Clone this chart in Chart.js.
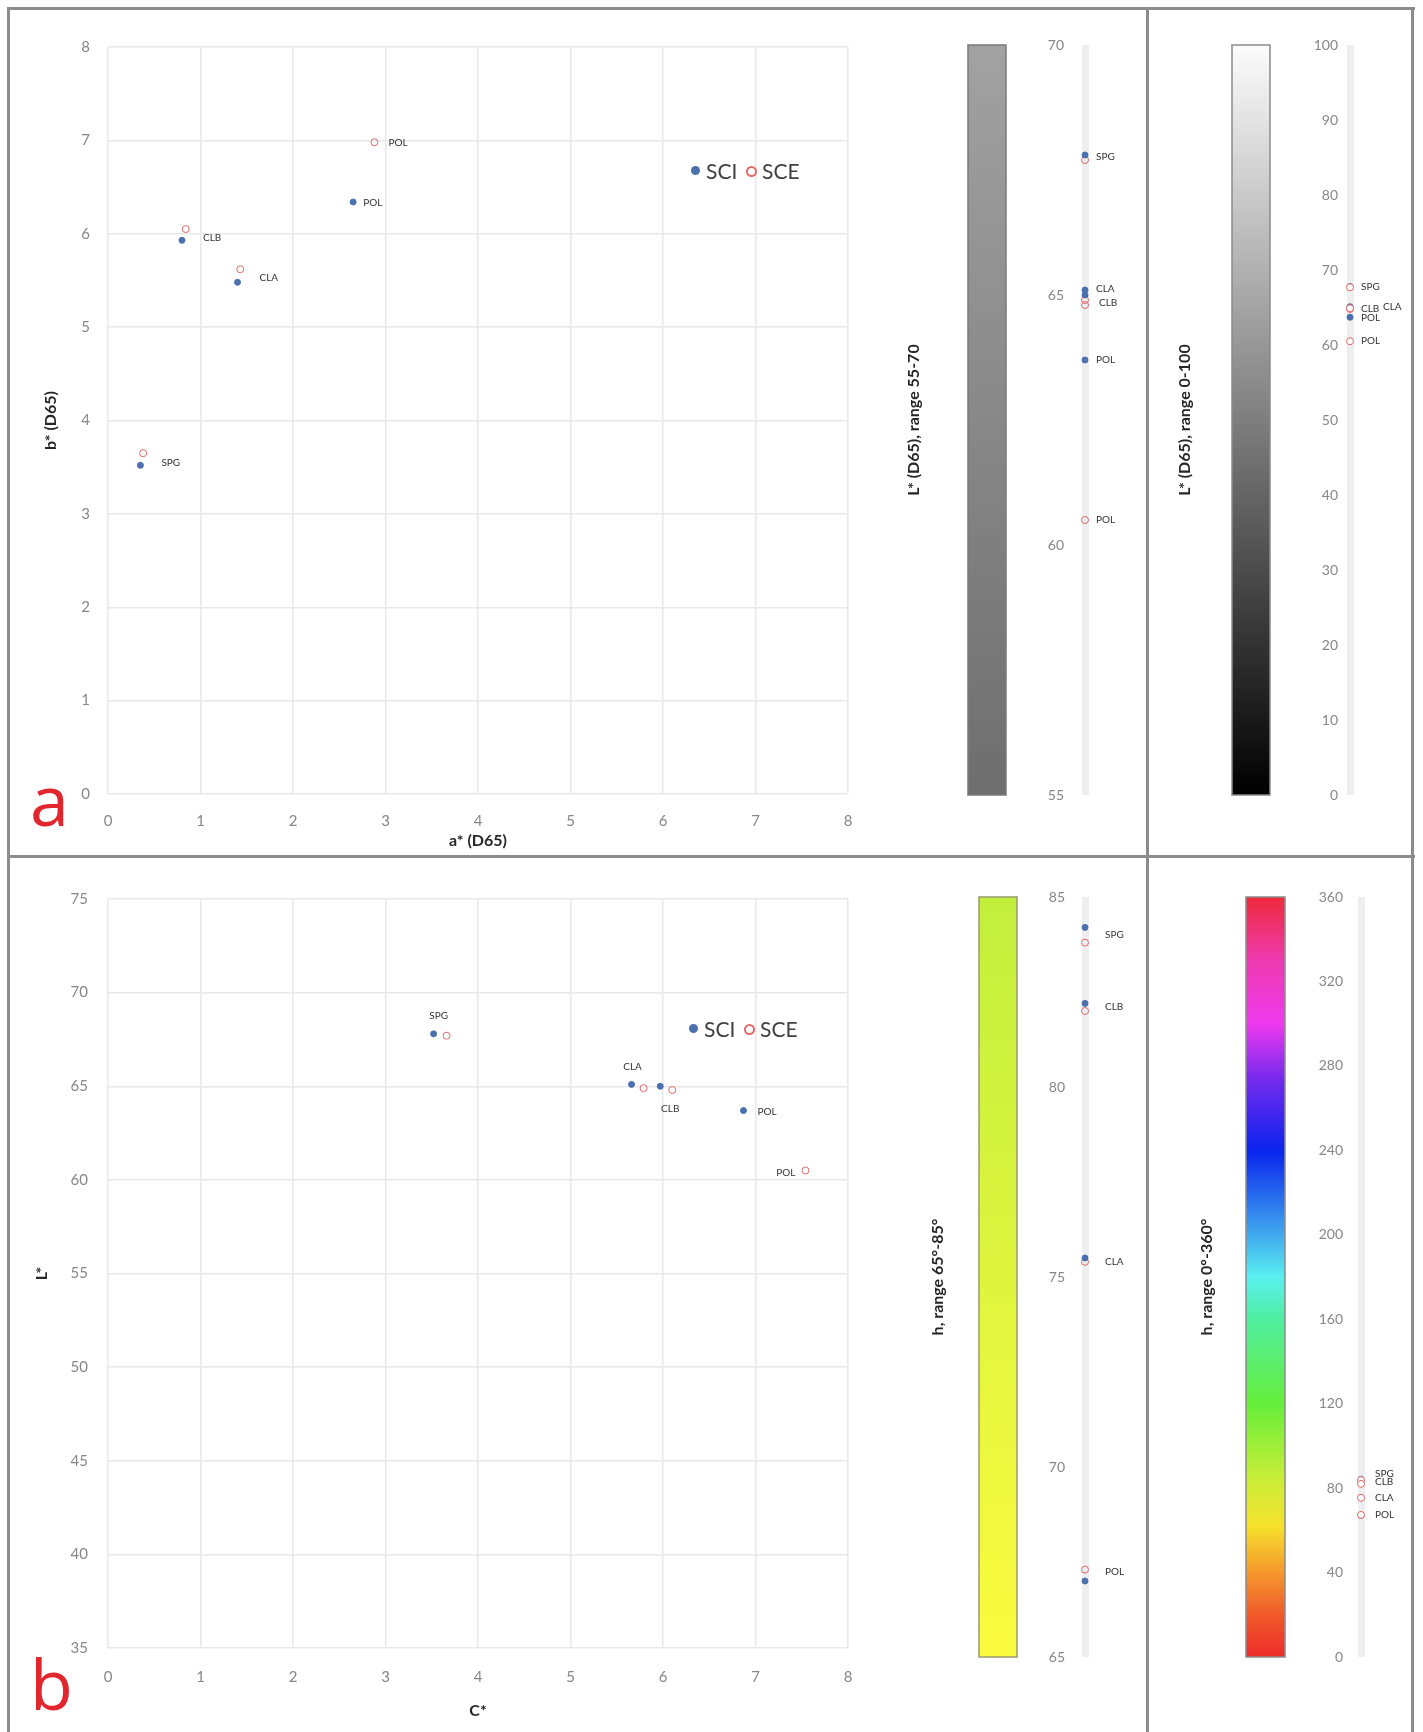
<!DOCTYPE html>
<html><head><meta charset="utf-8">
<script src="https://cdn.jsdelivr.net/npm/chart.js@4/dist/chart.umd.min.js"></script>
<style>
html,body{margin:0;padding:0;background:#fff;}
body{width:1423px;height:1732px;position:relative;overflow:hidden;font-family:Lato,'Open Sans',sans-serif;}
.box{position:absolute;}
canvas{display:block;}
.ln{position:absolute;background:#8c8c8c;}
.letter{position:absolute;color:#e2262d;font-size:70px;font-family:'Open Sans',sans-serif;line-height:1;}
.lg{position:absolute;font-size:21px;color:#404040;line-height:24px;height:24px;white-space:nowrap;}
.dot{position:absolute;width:9px;height:9px;border-radius:50%;}
.ring{position:absolute;width:7px;height:7px;border-radius:50%;border:2px solid;}
</style>
</head><body>
<div class="box" style="left:20px;top:20px;"><canvas id="ca" width="860" height="835"></canvas></div>
<div class="box" style="left:20px;top:870px;"><canvas id="cb" width="860" height="850"></canvas></div>
<div class="box" style="left:890px;top:20px;"><canvas id="sL1" width="250" height="835"></canvas></div>
<div class="box" style="left:1152px;top:20px;"><canvas id="sL2" width="258" height="835"></canvas></div>
<div class="box" style="left:890px;top:870px;"><canvas id="sH1" width="250" height="850"></canvas></div>
<div class="box" style="left:1152px;top:870px;"><canvas id="sH2" width="258" height="850"></canvas></div>

<div class="ln" style="left:7px;top:7px;width:1408px;height:3px;"></div>
<div class="ln" style="left:7px;top:7px;width:3px;height:1725px;"></div>
<div class="ln" style="left:1411px;top:7px;width:3px;height:1725px;"></div>
<div class="ln" style="left:7px;top:855px;width:1408px;height:3px;"></div>
<div class="ln" style="left:1146px;top:7px;width:3px;height:1725px;"></div>

<div class="letter" style="left:30px;top:764px;">a</div>
<div class="letter" style="left:30px;top:1648px;">b</div>
<div id="legends"></div>

<script>
// ---------- data ----------
const samples = ['SPG', 'CLB', 'CLA', 'POL'];
const seriesNames = ['SCI', 'SCE'];
// a*, b* (D65)
const sciA = [0.35, 0.80, 1.40, 2.65];
const sciB = [3.52, 5.93, 5.48, 6.34];
const sceA = [0.38, 0.84, 1.43, 2.88];
const sceB = [3.65, 6.05, 5.62, 6.98];
// C*
const sciC = [3.52, 5.97, 5.66, 6.87];
const sceC = [3.66, 6.10, 5.79, 7.54];
// L* (D65)
const sciL = [67.8, 65.0, 65.1, 63.7];
const sceL = [67.7, 64.8, 64.9, 60.5];
// h
const sciH = [84.2, 82.2, 75.5, 67.0];
const sceH = [83.8, 82.0, 75.4, 67.3];

// ---------- styles ----------
const SCI_COLOR = '#4a70b0';
const SCE_COLOR = '#e06868';
const TICK = '#878787';
const GRID = '#e8e8e8';
const TITLE = '#262626';
Chart.defaults.font.family = 'Lato, "Open Sans", sans-serif';

function pts(xs, ys) { return xs.map((x, i) => ({x: x, y: ys[i]})); }
function strip(vs) { return vs.map(v => ({x: 0, y: v})); }
function names(mask) { return samples.map((s, i) => mask[i] ? s : ''); }

const pointLabels = {
  id: 'pointLabels',
  afterDatasetsDraw(chart) {
    const ctx = chart.ctx;
    chart.data.datasets.forEach((ds, i) => {
      if (!ds.pointNames) return;
      const meta = chart.getDatasetMeta(i);
      meta.data.forEach((el, j) => {
        const t = ds.pointNames[j];
        if (!t) return;
        const o = (ds.labelPos && ds.labelPos[j]) || [9, 0, 'left'];
        ctx.save();
        ctx.font = '10px Lato, "Open Sans", sans-serif';
        ctx.fillStyle = '#333333';
        ctx.textAlign = o[2];
        ctx.textBaseline = 'middle';
        ctx.fillText(t, el.x + o[0], el.y + o[1]);
        ctx.restore();
      });
    });
  }
};

const colorBar = {
  id: 'colorBar',
  beforeDraw(chart, args, opts) {
    if (!opts || !opts.stops) return;
    const y = chart.scales.y;
    const ctx = chart.ctx;
    const y0 = y.getPixelForValue(y.min), y1 = y.getPixelForValue(y.max);
    const g = ctx.createLinearGradient(0, y0, 0, y1);
    opts.stops.forEach(s => g.addColorStop((s[0] - y.min) / (y.max - y.min), s[1]));
    ctx.save();
    ctx.fillStyle = g;
    ctx.fillRect(opts.x0, y1, opts.x1 - opts.x0, y0 - y1);
    ctx.strokeStyle = opts.border || '#8c8c8c';
    ctx.lineWidth = 1.5;
    ctx.strokeRect(opts.x0, y1, opts.x1 - opts.x0, y0 - y1);
    ctx.restore();
  }
};

function mainChart(id, sci, sce, cfg) {
  return new Chart(document.getElementById(id), {
    type: 'scatter',
    data: {datasets: [
      {label: seriesNames[0], data: sci, pointRadius: 3, pointHoverRadius: 3,
       backgroundColor: SCI_COLOR, borderColor: SCI_COLOR, borderWidth: 1,
       pointNames: cfg.namesSci, labelPos: cfg.posSci},
      {label: seriesNames[1], data: sce, pointRadius: 3.5, pointHoverRadius: 3.5,
       backgroundColor: 'rgba(255,255,255,0)', borderColor: SCE_COLOR, borderWidth: 1,
       pointNames: cfg.namesSce, labelPos: cfg.posSce}
    ]},
    options: {
      responsive: false, animation: false,
      layout: {padding: cfg.padding},
      plugins: {legend: {display: false}, tooltip: {enabled: false}},
      scales: {
        x: {min: 0, max: 8,
            ticks: {stepSize: 1, color: TICK, font: {size: 15}, padding: cfg.xTickPad, autoSkip: false},
            grid: {color: GRID, lineWidth: 1.5, drawTicks: false}, border: {display: false},
            title: {display: true, text: cfg.xTitle, color: TITLE, font: {size: 16, weight: 'bold'},
                    padding: {top: 0, bottom: cfg.xTitlePad}},
            afterFit: s => { s.height = cfg.xH; }},
        y: {min: cfg.yMin, max: cfg.yMax,
            ticks: {stepSize: cfg.yStep, color: TICK, font: {size: 15}, padding: cfg.yTickPad, autoSkip: false},
            grid: {color: GRID, lineWidth: 1.5, drawTicks: false}, border: {display: false},
            title: {display: true, text: cfg.yTitle, color: TITLE, font: {size: 16, weight: 'bold'},
                    padding: {top: cfg.yTitlePad, bottom: 0}},
            afterFit: s => { s.width = 88; }}
      }
    },
    plugins: [pointLabels]
  });
}

function stripChart(id, sciV, sceV, cfg) {
  const onTop = !!cfg.sceOnTop;
  return new Chart(document.getElementById(id), {
    type: 'scatter',
    data: {datasets: [
      {label: seriesNames[0], data: strip(sciV), pointRadius: 3, backgroundColor: SCI_COLOR,
       borderColor: SCI_COLOR, borderWidth: 1, clip: false, order: onTop ? 2 : 1,
       pointNames: cfg.namesSci, labelPos: cfg.posSci},
      {label: seriesNames[1], data: strip(sceV), pointRadius: 3.5,
       backgroundColor: onTop ? '#ffffff' : 'rgba(255,255,255,0)',
       borderColor: SCE_COLOR, borderWidth: 1, clip: false, order: onTop ? 1 : 2,
       pointNames: cfg.namesSce, labelPos: cfg.posSce}
    ]},
    options: {
      responsive: false, animation: false,
      layout: {padding: {top: cfg.top, bottom: cfg.bottom, right: cfg.right, left: 0}},
      plugins: {legend: {display: false}, tooltip: {enabled: false},
                colorBar: {x0: cfg.barX0, x1: cfg.barX1, stops: cfg.stops, border: cfg.barBorder}},
      scales: {
        x: {min: -1, max: 1, ticks: {display: false, stepSize: 1},
            grid: {color: c => (c.tick && c.tick.value === 0) ? '#eeeeee' : 'rgba(0,0,0,0)', lineWidth: 7, drawTicks: false},
            border: {display: false}, afterFit: s => { s.height = 0; }},
        y: {min: cfg.min, max: cfg.max,
            ticks: {stepSize: cfg.step, color: TICK, font: {size: 14}, padding: cfg.tickPad, autoSkip: false},
            grid: {display: false, drawTicks: false}, border: {display: false},
            title: {display: true, text: cfg.title, color: TITLE, font: {size: 16, weight: 'bold'},
                    padding: {top: cfg.titlePad, bottom: 0}},
            afterFit: s => { s.width = cfg.yW; }}
      }
    },
    plugins: [colorBar, pointLabels]
  });
}

// ---------- chart a : a* vs b* ----------
mainChart('ca', pts(sciA, sciB), pts(sceA, sceB), {
  padding: {top: 27, right: 32, left: 0, bottom: 0},
  xTitle: 'a* (D65)', yTitle: 'b* (D65)', yMin: 0, yMax: 8, yStep: 1,
  xH: 61, xTickPad: 18, xTitlePad: 5, yTickPad: 18, yTitlePad: 21,
  namesSci: names([1, 1, 1, 1]), namesSce: names([0, 0, 0, 1]),
  posSci: [[21, -3, 'left'], [21, -3, 'left'], [22, -5, 'left'], [10, 1, 'left']],
  posSce: [null, null, null, [14, 1, 'left']]
});

// ---------- chart b : C* vs L* ----------
mainChart('cb', pts(sciC, sciL), pts(sceC, sceL), {
  padding: {top: 29, right: 32, left: 0, bottom: 0},
  xTitle: 'C*', yTitle: 'L*', yMin: 35, yMax: 75, yStep: 5,
  xH: 72, xTickPad: 20, xTitlePad: 0, yTickPad: 20, yTitlePad: 12,
  namesSci: names([1, 1, 1, 1]), namesSce: names([0, 0, 0, 1]),
  posSci: [[5, -18, 'center'], [10, 23, 'center'], [1, -18, 'center'], [14, 1, 'left']],
  posSce: [null, null, null, [-10, 2, 'right']]
});

// ---------- L* strip 55-70 ----------
stripChart('sL1', sciL, sceL, {
  min: 55, max: 70, step: 5, title: 'L* (D65), range 55-70',
  top: 25, bottom: 60, right: 47, yW: 187, tickPad: 13, titlePad: 14,
  barX0: 78, barX1: 116, barBorder: '#7a7a7a',
  stops: [[55, '#6e6e6e'], [70, '#a2a2a2']],
  namesSci: names([1, 0, 1, 1]), namesSce: names([0, 1, 0, 1]),
  posSci: [[11, 2, 'left'], null, [11, -1, 'left'], [11, 0, 'left']],
  posSce: [null, [14, -2, 'left'], null, [11, 0, 'left']]
});

// ---------- L* strip 0-100 ----------
stripChart('sL2', sciL, sceL, {
  min: 0, max: 100, step: 10, title: 'L* (D65), range 0-100',
  top: 25, bottom: 60, right: 53, yW: 191, tickPad: 5, titlePad: 23, sceOnTop: true,
  barX0: 80, barX1: 118, barBorder: '#8a8a8a',
  stops: [[0, '#000000'], [100, '#fcfcfc']],
  namesSci: names([0, 0, 1, 1]), namesSce: names([1, 1, 0, 1]),
  posSci: [null, null, [33, 0, 'left'], [11, 1, 'left']],
  posSce: [[11, 0, 'left'], [11, 0, 'left'], null, [11, 0, 'left']]
});

// ---------- h strip 65-85 ----------
stripChart('sH1', sciH, sceH, {
  min: 65, max: 85, step: 5, title: 'h, range 65°-85°',
  top: 27, bottom: 63, right: 47, yW: 187, tickPad: 12, titlePad: 38,
  barX0: 89, barX1: 127, barBorder: '#9a9a70',
  stops: [[65, '#fbfb3e'], [85, '#c2ef3c']],
  namesSci: names([1, 1, 0, 0]), namesSce: names([0, 0, 1, 1]),
  posSci: [[20, 7, 'left'], [20, 3, 'left'], null, null],
  posSce: [null, null, [20, 0, 'left'], [20, 2, 'left']]
});

// ---------- h strip 0-360 ----------
stripChart('sH2', sciH, sceH, {
  min: 0, max: 360, step: 40, title: 'h, range 0°-360°',
  top: 27, bottom: 63, right: 41, yW: 201, tickPad: 10, titlePad: 45, sceOnTop: true,
  barX0: 94, barX1: 133, barBorder: '#8c8c8c',
  stops: [[0, '#ee2c2c'], [20, '#f05a2a'], [40, '#f5982c'], [62, '#f6e22c'], [85, '#c8ee38'],
          [120, '#66ee3a'], [160, '#50eea0'], [180, '#5af0f0'], [205, '#3a98ee'], [240, '#0a24ee'],
          [275, '#7a2aee'], [300, '#ee3aee'], [330, '#ee3ab0'], [360, '#ee2a3a']],
  namesSci: names([0, 0, 0, 0]), namesSce: names([1, 1, 1, 1]),
  posSce: [[14, -6, 'left'], [14, -2, 'left'], [14, 0, 'left'], [14, 0, 'left']]
});

// ---------- HTML legends ----------
function legend(cx, cy) {
  const root = document.getElementById('legends');
  const items = [
    {cls: 'dot', color: SCI_COLOR, mx: cx, tx: cx + 10, text: seriesNames[0]},
    {cls: 'ring', color: SCE_COLOR, mx: cx + 55, tx: cx + 66, text: seriesNames[1]}
  ];
  items.forEach(it => {
    const m = document.createElement('div');
    m.className = it.cls;
    m.style.left = (it.mx - 5) + 'px';
    m.style.top = (cy - 5) + 'px';
    if (it.cls === 'dot') m.style.background = it.color; else m.style.borderColor = it.color;
    root.appendChild(m);
    const t = document.createElement('div');
    t.className = 'lg';
    t.textContent = it.text;
    t.style.left = it.tx + 'px';
    t.style.top = (cy - 12) + 'px';
    root.appendChild(t);
  });
}
legend(696, 171);
legend(694, 1029);
</script>
</body></html>
